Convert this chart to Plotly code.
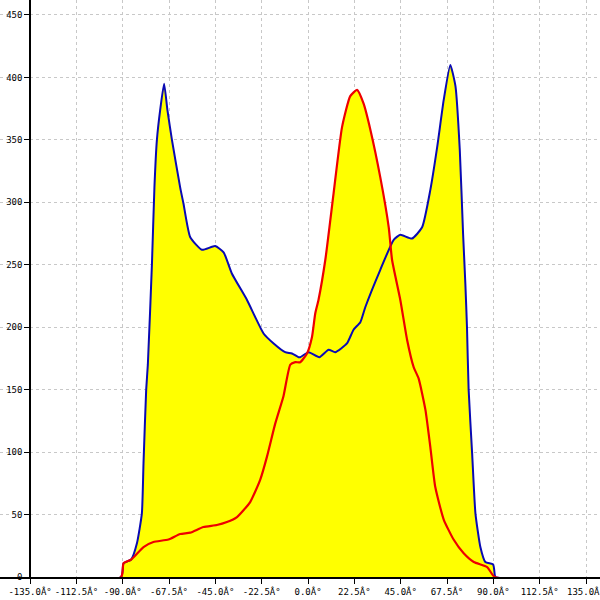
import plotly.graph_objects as go

# Blue series (angle in degrees, value)
blue_x = [-200, -90.8, -89.6, -85.9, -83.1, -80.7, -79.9, -78.6, -77.8, -75.8, -74.6, -73.4, -71.8,
          -69.9, -68.3, -66.1, -62.1, -60.5, -57.2, -51.5, -45.1, -41.0, -37.0, -29.7, -21.6,
          -16.7, -11.1, -7.8, -4.6, -3.8, 0.3, 5.5, 10.0, 13.2, 18.9, 22.1, 25.4, 27.8, 35.1,
          41.6, 44.8, 50.5, 55.4, 59.4, 62.7, 65.9, 69.1, 71.6, 73.7, 75.3, 76.4, 77.2, 78.0,
          79.7, 81.3, 83.7, 86.1, 89.9, 90.7, 91.0, 200]
blue_y = [0, 0, 11, 14, 27, 51, 91, 150, 170, 251, 312, 350, 374,
          395, 374, 350, 312, 299, 272, 262, 265, 260, 243, 222, 195,
          187, 180, 179, 176, 176, 180, 176, 182, 180, 187, 198, 204, 216, 246,
          270, 274, 271, 280, 310, 344, 382, 410, 393, 342, 275, 235, 200, 150,
          99, 51, 24, 12, 10, 1.6, 0, 0]

# Red series
red_x = [-200, -90.8, -89.6, -85.9, -79.9, -75.1, -67.8, -62.1, -57.2, -50.8, -44.3, -39.4, -34.5,
         -28.1, -23.2, -20.0, -15.9, -11.9, -8.6, -6.2, -3.8, -0.5, 1.9, 3.5, 5.1, 8.4, 12.4,
         16.5, 20.5, 23.8, 27.0, 30.3, 35.1, 39.2, 40.8, 44.8, 48.1, 51.3, 53.7, 57.0, 59.4,
         61.8, 65.9, 70.7, 75.6, 80.5, 87.0, 90.7, 200]
red_y = [0, 0, 11, 14, 24, 28, 30, 34.4, 35.5, 40, 41.6, 44, 48,
         60, 78, 96, 123, 145, 170, 172, 172, 179, 192, 211, 222, 254, 307,
         360, 385, 390, 379, 358, 320, 280, 254, 222, 190, 168, 159, 134, 104,
         72, 46, 30, 19, 12, 8, 0, 0]

x_ticks = [-135.0, -112.5, -90.0, -67.5, -45.0, -22.5, 0.0, 22.5, 45.0, 67.5, 90.0, 112.5, 135.0]
x_ticklabels = [f"{v:.1f}Â°" for v in x_ticks]
y_ticks = [0, 50, 100, 150, 200, 250, 300, 350, 400, 450]

YELLOW = "#ffff00"
BLUE = "#0a0ab4"
RED = "#ee0000"

fig = go.Figure()
for xs, ys in [(blue_x, blue_y), (red_x, red_y)]:
    fig.add_trace(go.Scatter(x=xs, y=ys, mode="lines", fill="tozeroy",
                             fillcolor=YELLOW, line=dict(width=0, shape="spline", smoothing=0.5),
                             hoverinfo="skip"))
fig.add_trace(go.Scatter(x=blue_x, y=blue_y, mode="lines",
                         line=dict(color=BLUE, width=2, shape="spline", smoothing=0.5),
                         cliponaxis=False))
fig.add_trace(go.Scatter(x=red_x, y=red_y, mode="lines",
                         line=dict(color=RED, width=2.2, shape="spline", smoothing=0.5),
                         cliponaxis=False))

# white panel left of the y axis (hides grid there)
fig.add_shape(type="rect", xref="x", yref="paper", x0=-200, x1=-135, y0=0, y1=1,
              fillcolor="white", line=dict(width=0), layer="between")

font = dict(family="DejaVu Sans Mono", size=9, color="black")
fig.update_layout(
    width=600, height=600,
    margin=dict(l=0, r=0, t=0, b=23),
    paper_bgcolor="white", plot_bgcolor="white",
    showlegend=False,
    font=font,
    xaxis=dict(range=[-149.6, 141.8], tickmode="array", tickvals=x_ticks, ticktext=x_ticklabels,
               showgrid=True, gridcolor="#c8c8c8", griddash="dot", gridwidth=1,
               showline=True, linecolor="black", linewidth=1.5,
               ticks="outside", ticklen=5, tickcolor="black", zeroline=False,
               ticklabeloverflow="allow", automargin=False, tickfont=font),
    yaxis=dict(range=[0, 462], tickmode="array", tickvals=y_ticks,
               showgrid=True, gridcolor="#c8c8c8", griddash="dot", gridwidth=1,
               showline=True, linecolor="black", linewidth=1.5,
               anchor="free", position=0.05, automargin=False,
               ticks="outside", ticklen=5, tickcolor="black", zeroline=False,
               tickfont=font),
)

fig.write_html(
    "out.html", config={"displayModeBar": False},
    post_script="document.body.style.margin='0px';document.body.style.overflow='hidden';",
)
